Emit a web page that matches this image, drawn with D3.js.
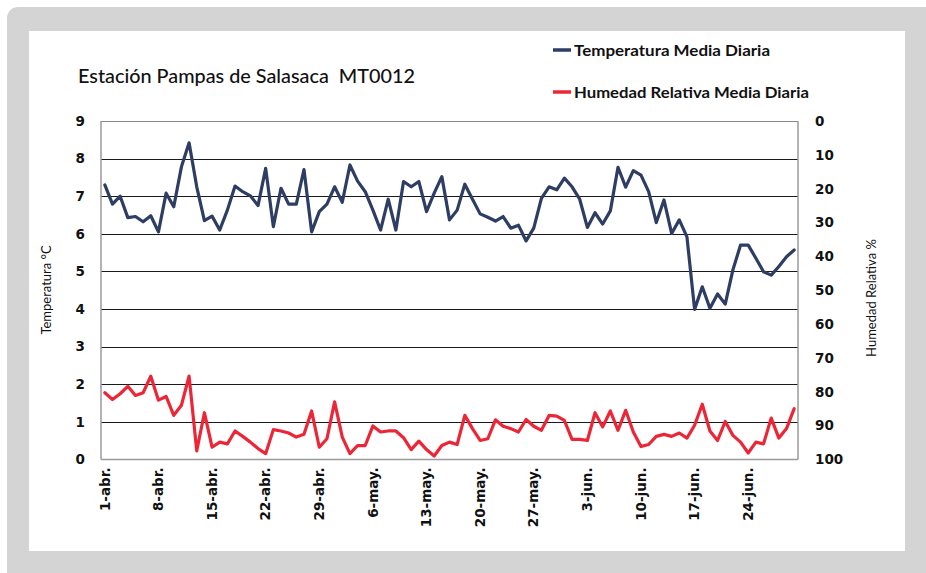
<!DOCTYPE html>
<html>
<head>
<meta charset="utf-8">
<script src="https://cdn.jsdelivr.net/npm/d3@7"></script>
<style>
  html, body { margin: 0; padding: 0; background: #ffffff; }
  svg { display: block; }
</style>
</head>
<body>
<svg id="chart" width="926" height="573"></svg>
<script>
// Daily means, 1 April – 30 June
const startDay = "2013-04-01";
const endDay = "2013-07-01";
const tickLabels = ["1-abr.", "8-abr.", "15-abr.", "22-abr.", "29-abr.", "6-may.", "13-may.",
  "20-may.", "27-may.", "3-jun.", "10-jun.", "17-jun.", "24-jun."];
const tempTicks = [0, 1, 2, 3, 4, 5, 6, 7, 8, 9];
const humTicks = [0, 10, 20, 30, 40, 50, 60, 70, 80, 90, 100];

const temperature = [7.30, 6.79, 7.00, 6.43, 6.46, 6.32, 6.48, 6.05, 7.08, 6.72, 7.78, 8.42, 7.25, 6.35,
  6.47, 6.10, 6.63, 7.27, 7.12, 7.01, 6.75, 7.74, 6.19, 7.21, 6.79, 6.79, 7.71, 6.05, 6.59, 6.79,
  7.25, 6.84, 7.83, 7.40, 7.12, 6.63, 6.10, 6.92, 6.10, 7.39, 7.25, 7.39, 6.59, 7.08, 7.52, 6.37,
  6.63, 7.32, 6.92, 6.53, 6.44, 6.34, 6.46, 6.15, 6.23, 5.81, 6.15, 6.94, 7.25, 7.17, 7.48,
  7.25, 6.92, 6.17, 6.56, 6.26, 6.61, 7.77, 7.24, 7.68, 7.56, 7.12, 6.30, 6.90, 6.01, 6.37, 5.92,
  3.99, 4.59, 4.02, 4.40, 4.13, 5.04, 5.70, 5.70, 5.35, 4.99, 4.90, 5.13, 5.39, 5.57];

const humidity = [80.3, 82.3, 80.6, 78.4, 81.1, 80.3, 75.4, 82.5, 81.4, 87.0, 84.0, 75.4, 97.5, 86.2,
  96.4, 94.9, 95.4, 91.6, 93.2, 94.9, 96.8, 98.3, 91.2, 91.6, 92.2, 93.4, 92.6, 85.7, 96.4, 93.9,
  83.0, 93.4, 98.3, 95.9, 95.9, 90.1, 91.9, 91.6, 91.6, 93.6, 97.1, 94.6, 97.1, 99.0, 95.9, 94.9,
  95.6, 87.0, 90.9, 94.4, 93.9, 88.3, 90.2, 90.9, 91.9, 88.2, 90.2, 91.4, 87.0, 87.2, 88.5,
  94.1, 94.1, 94.4, 86.2, 90.4, 85.7, 91.4, 85.5, 91.9, 96.2, 95.6, 93.2, 92.6, 93.2, 92.2, 93.7,
  89.9, 83.7, 91.6, 94.4, 88.8, 92.9, 94.9, 98.1, 94.9, 95.4, 87.8, 93.7, 90.9, 85.0];

const days = d3.timeDay.range(new Date(startDay + "T00:00"), new Date(endDay + "T00:00"));

const svg = d3.select("#chart");

// Frame: grey card with a white panel inside
svg.append("rect").attr("x", 0).attr("y", 0).attr("width", 926).attr("height", 573).attr("fill", "#ffffff");
svg.append("rect").attr("x", 7).attr("y", 7).attr("width", 940).attr("height", 590)
  .attr("rx", 11).attr("fill", "#d4d4d4");
svg.append("rect").attr("x", 29).attr("y", 31).attr("width", 876).attr("height", 520).attr("fill", "#ffffff");

const plot = { left: 101, right: 798, top: 121, bottom: 459.4 };

const x = d3.scaleBand().domain(days).range([plot.left, plot.right]).padding(0);
const yT = d3.scaleLinear().domain([0, 9]).range([plot.bottom, plot.top]);
const yH = d3.scaleLinear().domain([0, 100]).range([plot.top, plot.bottom]);
const cx = d => x(d) + x.bandwidth() / 2;

// Horizontal gridlines
svg.append("g").selectAll("line").data(tempTicks.filter(t => t > 0))
  .join("line")
  .attr("x1", plot.left).attr("x2", plot.right)
  .attr("y1", d => Math.round(yT(d)) + 0.5).attr("y2", d => Math.round(yT(d)) + 0.5)
  .attr("stroke", d => d === 9 ? "#888888" : "#1a1a1a").attr("stroke-width", 1);

// Plot frame: side and bottom axes
const frame = svg.append("g").attr("stroke", "#9a9a9a").attr("stroke-width", 1.5).attr("fill", "none");
frame.append("line").attr("x1", plot.left).attr("x2", plot.left).attr("y1", plot.top).attr("y2", plot.bottom);
frame.append("line").attr("x1", plot.right).attr("x2", plot.right).attr("y1", plot.top).attr("y2", plot.bottom);
frame.append("line").attr("x1", plot.left).attr("x2", plot.right).attr("y1", plot.bottom).attr("y2", plot.bottom);

const tickFont = "'DejaVu Sans', Verdana, sans-serif";

// Left axis (temperature)
const axL = svg.append("g").attr("transform", `translate(${plot.left},0)`)
  .call(d3.axisLeft(yT).tickValues(tempTicks).tickSize(0).tickPadding(16).tickFormat(d3.format("d")));
axL.select(".domain").remove();
axL.selectAll("text").attr("font-family", tickFont).attr("font-weight", "bold")
  .attr("font-size", 13.5).attr("fill", "#111111");

// Right axis (relative humidity, inverted)
const axR = svg.append("g").attr("transform", `translate(${plot.right},0)`)
  .call(d3.axisRight(yH).tickValues(humTicks).tickSize(0).tickPadding(17).tickFormat(d3.format("d")));
axR.select(".domain").remove();
axR.selectAll("text").attr("font-family", tickFont).attr("font-weight", "bold")
  .attr("font-size", 13.5).attr("fill", "#111111");

// Bottom axis with weekly date labels
const weekly = days.filter((d, i) => i % 7 === 0);
const axB = svg.append("g").attr("transform", `translate(0,${plot.bottom})`)
  .call(d3.axisBottom(x).tickValues(weekly).tickSize(0)
    .tickFormat((d, i) => tickLabels[i]));
axB.select(".domain").remove();
axB.selectAll("text")
  .attr("font-family", tickFont).attr("font-weight", "bold").attr("font-size", 13.5).attr("fill", "#111111")
  .attr("text-anchor", "end")
  .attr("transform", "rotate(-90)")
  .attr("x", -8).attr("y", 0).attr("dy", "0.35em");

// Series lines
const lineT = d3.line().x((d, i) => cx(days[i])).y(d => yT(d));
const lineH = d3.line().x((d, i) => cx(days[i])).y(d => yH(d));

svg.append("path").datum(humidity).attr("d", lineH)
  .attr("fill", "none").attr("stroke", "#ec2637").attr("stroke-width", 3.2)
  .attr("stroke-linejoin", "round").attr("stroke-linecap", "round");
svg.append("path").datum(temperature).attr("d", lineT)
  .attr("fill", "none").attr("stroke", "#2e3d64").attr("stroke-width", 3.2)
  .attr("stroke-linejoin", "round").attr("stroke-linecap", "round");

// Title
const labelFont = "Lato, 'Open Sans', sans-serif";
svg.append("text").attr("x", 78).attr("y", 83)
  .attr("font-family", labelFont).attr("font-size", 19.5).attr("font-weight", 500).attr("fill", "#111111")
  .attr("xml:space", "preserve")
  .attr("textLength", 337).attr("lengthAdjust", "spacingAndGlyphs")
  .text("Estación Pampas de Salasaca  MT0012");

// Legend
const legend = [
  { name: "Temperatura Media Diaria", color: "#2e3d64", y: 50, w: 196 },
  { name: "Humedad Relativa Media Diaria", color: "#ec2637", y: 92, w: 235 }
];
const lg = svg.append("g").selectAll("g").data(legend).join("g");
lg.append("line").attr("x1", 553).attr("x2", 571)
  .attr("y1", d => d.y).attr("y2", d => d.y)
  .attr("stroke", d => d.color).attr("stroke-width", 3.5);
lg.append("text").attr("x", 574).attr("y", d => d.y + 5.5)
  .attr("font-family", labelFont).attr("font-weight", "bold").attr("font-size", 16)
  .attr("textLength", d => d.w).attr("lengthAdjust", "spacingAndGlyphs")
  .attr("fill", "#111111").text(d => d.name);

// Axis titles
svg.append("text").attr("transform", "translate(51,290) rotate(-90)")
  .attr("text-anchor", "middle").attr("font-family", labelFont).attr("font-size", 13)
  .attr("fill", "#111111").text("Temperatura °C");
svg.append("text").attr("transform", "translate(876,298) rotate(-90)")
  .attr("text-anchor", "middle").attr("font-family", labelFont).attr("font-size", 13)
  .attr("fill", "#111111").text("Humedad Relativa %");
</script>
</body>
</html>
